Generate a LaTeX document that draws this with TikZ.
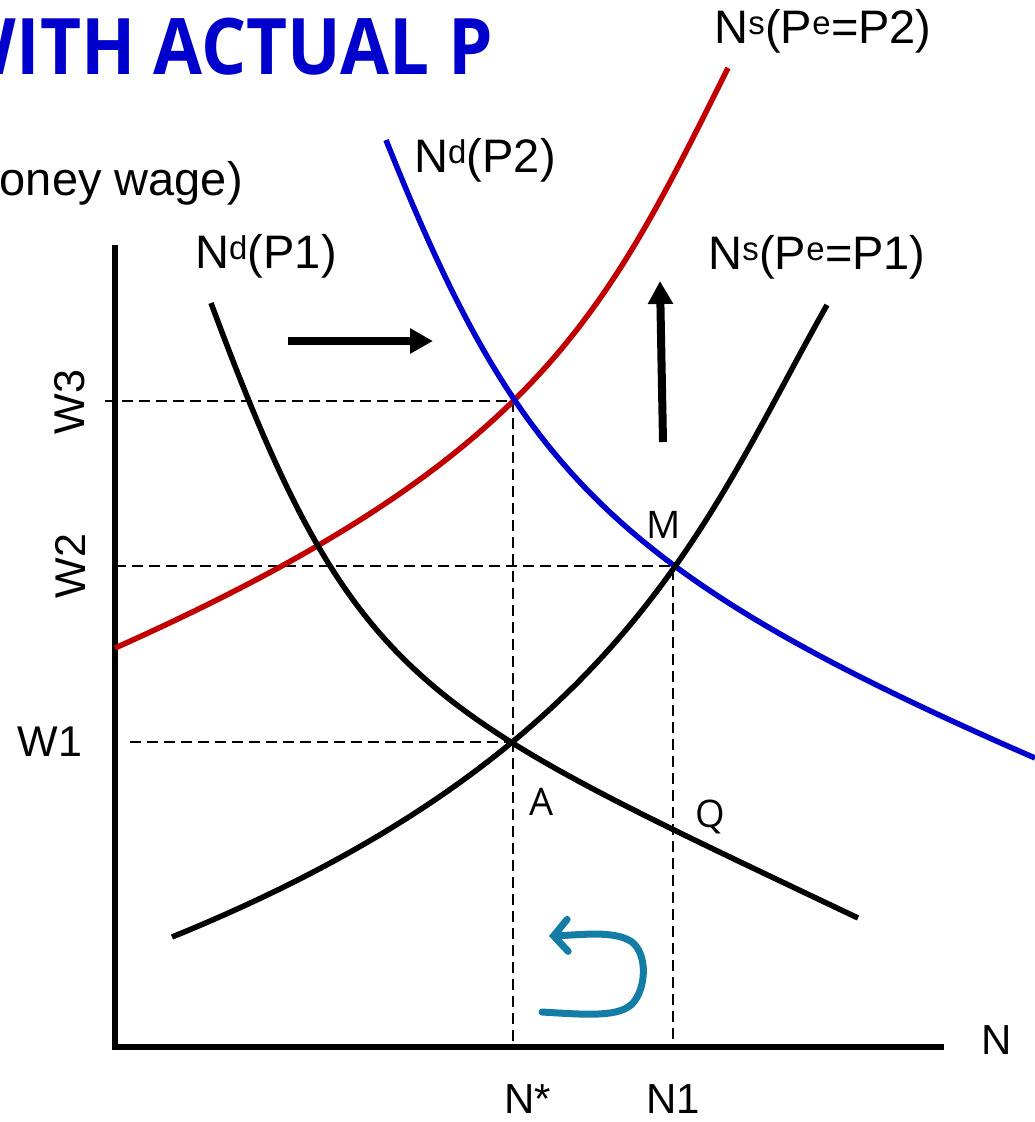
\documentclass[tikz,border=0pt]{standalone}
\usepackage{fontspec}
\setmainfont{Liberation Sans}
\newfontfamily\osans{Open Sans}
\newfontfamily\osanstitle[FakeStretch=0.91]{Open Sans}
\usetikzlibrary{arrows.meta}
\definecolor{titleblue}{RGB}{0,0,204}
\definecolor{curvered}{RGB}{192,0,0}
\definecolor{curveblue}{RGB}{0,0,204}
\definecolor{tealarrow}{RGB}{20,125,165}
\begin{document}
\begin{tikzpicture}[x=1pt,y=-1pt,
  lbl/.style={inner sep=0pt,font=\fontsize{47}{50}\selectfont},
  axl/.style={inner sep=0pt,font=\fontsize{42}{44}\selectfont},
  wl/.style={inner sep=0pt,font=\fontsize{43}{47}\selectfont},
  pt/.style={inner sep=0pt,font=\osans\fontsize{38}{42}\selectfont},
  axis/.style={line width=6pt},
  curve/.style={line width=5.5pt},
  guide/.style={line width=1.8pt,dash pattern=on 11pt off 6pt},
  shiftarrow/.style={line width=8pt,-{Triangle[length=23pt,width=24pt]}}]
\useasboundingbox (0,0) rectangle (1035,1122);
\begin{scope}
\clip (0,0) rectangle (1035,1122);
% title
\node[anchor=base east,inner sep=0pt,text=titleblue,font=\osanstitle\bfseries\fontsize{78}{84}\selectfont] (title) at (493,74) {WITH ACTUAL P};
% axes
\coordinate (O) at (115,1047);
\coordinate (ytop) at (115,245);
\coordinate (xend) at (944,1047);
\draw[axis] (ytop) -- (115,1050);
\draw[axis] (112,1047) -- (xend);
% key points
\coordinate (A) at (513,742);
\coordinate (M) at (673,566);
\coordinate (E3) at (513,401);
% guides
\draw[guide] (105,401) -- (E3) -- (513,1047);
\draw[guide] (115,566) -- (M) -- (673,1047);
\draw[guide] (130,742) -- (A);
% curves
\draw[curve,curvered] (115,648) .. controls (540,458) and (605,314) .. (728,68);
\draw[curve,curveblue] (386,140) .. controls (518,470) and (610,573) .. (1035,758);
\draw[curve] (211,303) .. controls (355,691) and (417,708) .. (858,918);
\draw[curve] (172,937) .. controls (627,752) and (708,515) .. (827,305);
% shift arrows
\coordinate (r1) at (288,341);
\coordinate (r2) at (433,341);
\draw[shiftarrow] (r1) -- (r2);
\coordinate (u1) at (663,442);
\coordinate (u2) at (660,281);
\draw[shiftarrow] (u1) -- (u2);
% curly arrow
\coordinate (c1) at (542,1012);
\coordinate (c2) at (549,936);
\draw[tealarrow,line width=7pt,line cap=round,line join=round,-{Straight Barb[length=14pt,width=32pt,line cap=round]}]
  (c1) .. controls (590,1015) and (620,1017) .. (633,1003)
  .. controls (646,988) and (648,955) .. (632,942)
  .. controls (615,930) and (580,935) .. (c2);
% labels
\node[lbl] (lNs2) at (823,31) {N\textsuperscript{s}(P\textsuperscript{e}=P2)};
\node[lbl] (lNd2) at (485,160) {N\textsuperscript{d}(P2)};
\node[lbl] (lNd1) at (266,256) {N\textsuperscript{d}(P1)};
\node[lbl] (lNs1) at (817,257) {N\textsuperscript{s}(P\textsuperscript{e}=P1)};
\node[lbl,anchor=east] (ylab) at (243,183) {oney wage)};
\node[wl] (w1) at (50,742) {W1};
\node[wl,rotate=90] (w2) at (70,566) {W2};
\node[wl,rotate=90] (w3) at (70,402) {W3};
\node[axl] (nstar) at (528,1099) {N*};
\node[axl] (n1) at (673,1099) {N1};
\node[axl] (nax) at (997,1040) {N};
\node[pt] (lM) at (664,525) {M};
\node[pt] (lA) at (542,802) {A};
\node[pt] (lQ) at (710,817) {Q};
\end{scope}
\end{tikzpicture}
\end{document}
